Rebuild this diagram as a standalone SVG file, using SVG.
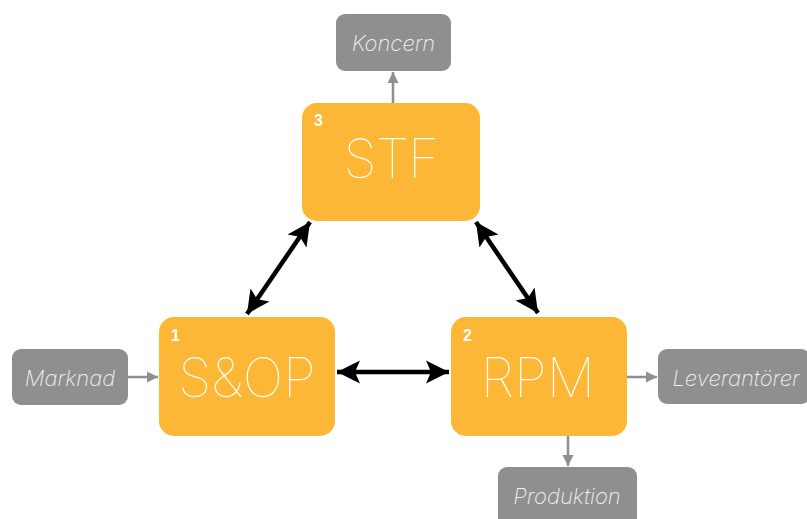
<svg xmlns="http://www.w3.org/2000/svg" width="807" height="519" viewBox="0 0 807 519">
<defs>
<style>
.main{fill:#FBB735;}
.ext{fill:#8F8F8F;}
.big{font-family:Inter,"Open Sans","Liberation Sans",sans-serif;font-weight:100;fill:#FFFFFF;font-size:54px;text-anchor:middle;}
.num{font-family:"Liberation Sans",Arial,sans-serif;font-weight:bold;fill:#FFFFFF;font-size:16px;}
.lbl{font-family:Inter,"Open Sans","Liberation Sans",sans-serif;font-weight:200;font-style:italic;fill:#EEEEEE;font-size:22px;text-anchor:middle;}
.thin{stroke:#8F8F8F;stroke-width:2.5;fill:none;}
.thick{stroke:#000000;stroke-width:4.5;fill:none;}
</style>
<marker id="big" markerUnits="userSpaceOnUse" markerWidth="25" markerHeight="25" refX="23" refY="12.5" orient="auto-start-reverse" viewBox="0 0 25 25">
<path d="M0,1 L23,12.5 L0,24 L5,12.5 Z" fill="#000000"/>
</marker>
<marker id="small" markerUnits="userSpaceOnUse" markerWidth="12" markerHeight="12" refX="11" refY="6" orient="auto" viewBox="0 0 12 12">
<path d="M0,0.5 L11,6 L0,11.5 Z" fill="#8F8F8F"/>
</marker>
</defs>
<g id="connectors">
<line class="thin" x1="393" y1="103" x2="393" y2="72" marker-end="url(#small)"/>
<line class="thin" x1="128" y1="377" x2="158" y2="377" marker-end="url(#small)"/>
<line class="thin" x1="627" y1="377" x2="657" y2="377" marker-end="url(#small)"/>
<line class="thin" x1="568" y1="436" x2="568" y2="466" marker-end="url(#small)"/>
<line class="thick" x1="337" y1="372" x2="449" y2="372" marker-start="url(#big)" marker-end="url(#big)"/>
<line class="thick" x1="247" y1="314" x2="310" y2="222" marker-start="url(#big)" marker-end="url(#big)"/>
<line class="thick" x1="476" y1="222" x2="538" y2="313" marker-start="url(#big)" marker-end="url(#big)"/>
</g>
<g id="koncern">
<rect class="ext" x="336" y="14" width="115" height="57" rx="9"/>
<text class="lbl" x="393.5" y="51">Koncern</text>
</g>
<g id="stf">
<rect class="main" x="302" y="103" width="178" height="118" rx="15"/>
<text class="num" x="314" y="126">3</text>
<text class="big" x="391" y="178" letter-spacing="-1">STF</text>
</g>
<g id="sop">
<rect class="main" x="159" y="317" width="176" height="119" rx="15"/>
<text class="num" x="171" y="341">1</text>
<text class="big" x="247" y="397">S&amp;OP</text>
</g>
<g id="rpm">
<rect class="main" x="451" y="317" width="176" height="119" rx="15"/>
<text class="num" x="463" y="341">2</text>
<text class="big" x="538" y="397">RPM</text>
</g>
<g id="marknad">
<rect class="ext" x="12" y="349" width="116" height="56" rx="9"/>
<text class="lbl" x="70" y="386">Marknad</text>
</g>
<g id="leverantorer">
<rect class="ext" x="658" y="349" width="152" height="55" rx="9"/>
<text class="lbl" x="736" y="386">Leverantörer</text>
</g>
<g id="produktion">
<rect class="ext" x="498" y="467" width="139" height="60" rx="9"/>
<text class="lbl" x="567" y="504">Produktion</text>
</g>
</svg>
